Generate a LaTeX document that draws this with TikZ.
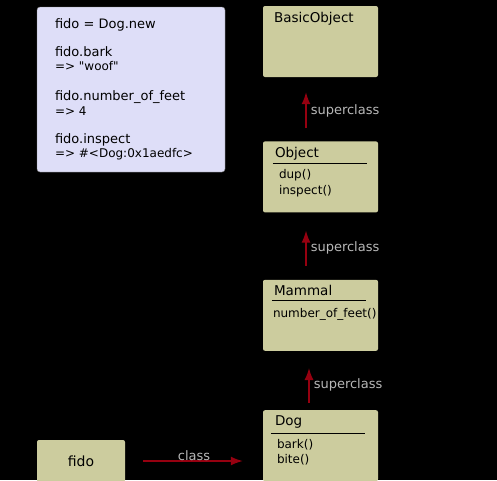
\documentclass[tikz,border=0pt]{standalone}
\usepackage{fontspec}
\setmainfont{DejaVu Sans}
\usetikzlibrary{positioning,arrows.meta}
\definecolor{khaki}{RGB}{204,204,158}
\definecolor{lavender}{RGB}{222,222,248}
\definecolor{arrowred}{RGB}{150,0,16}

\begin{document}
\begin{tikzpicture}[x=1pt, y=-1pt, node distance=64pt, >=Latex,
    classbox/.style={rectangle, fill=khaki, minimum width=115pt, minimum height=71pt, rounded corners=2pt, inner sep=0pt},
    codebox/.style={rectangle, fill=lavender, draw=gray, minimum width=188pt, minimum height=165pt, rounded corners=3pt, inner sep=0pt},
    classname/.style={anchor=north west, inner sep=0pt, font=\fontsize{13.5}{15}\selectfont},
    methods/.style={anchor=north west, inner sep=0pt, align=left, font=\fontsize{12}{15.5}\selectfont},
    divider/.style={black, line width=0.8pt},
    edge/.style={-{Latex[length=12pt,width=9pt]}, line width=1.5pt, draw=arrowred},
    edgelabel/.style={text=white!72!black, font=\fontsize{13}{15}\selectfont, inner sep=2pt}]

\fill[black] (0,0) rectangle (497,480);
\useasboundingbox (0,0) rectangle (497,480);

% irb session
\node [codebox] (session) at (131,89.5) {};
\node [anchor=north west, inner sep=0pt, align=left, font=\fontsize{13}{14.5}\selectfont] (code) at ([xshift=18pt,yshift=-11.5pt]session.north west)
  {fido = Dog.new\\[13.5pt]
   fido.bark\\
   {\fontsize{12}{14.5}\selectfont => \textquotedbl woof\textquotedbl}\\[15.5pt]
   fido.number\_of\_feet\\
   {\fontsize{12}{14.5}\selectfont => 4}\\[13.5pt]
   fido.inspect\\
   {\fontsize{12}{14.5}\selectfont => \#<Dog:0x1aedfc>}};

% class chain
\node [classbox] (basic) at (320.5,41.5) {};
\node [classbox, below=64pt of basic] (object) {};
\node [classbox, below=67pt of object] (mammal) {};
\node [classbox, below=59pt of mammal] (dog) {};

\node [classname] (basicname) at ([xshift=11pt,yshift=-6.5pt]basic.north west) {BasicObject};

\node [classname] (objectname) at ([xshift=12pt,yshift=-5.7pt]object.north west) {Object};
\draw [divider] ([xshift=10pt,yshift=-22pt]object.north west) -- ([xshift=-11pt,yshift=-22pt]object.north east);
\node [methods] (objectmethods) at ([xshift=16pt,yshift=-28pt]object.north west) {dup()\\inspect()};

\node [classname] (mammalname) at ([xshift=11pt,yshift=-5.7pt]mammal.north west) {Mammal};
\draw [divider] ([xshift=9pt,yshift=-21pt]mammal.north west) -- ([xshift=-12pt,yshift=-21pt]mammal.north east);
\node [methods] (mammalmethods) at ([xshift=10pt,yshift=-29pt]mammal.north west) {number\_of\_feet()};

\node [classname] (dogname) at ([xshift=12pt,yshift=-5.7pt]dog.north west) {Dog};
\draw [divider] ([xshift=8pt,yshift=-23pt]dog.north west) -- ([xshift=-13pt,yshift=-23pt]dog.north east);
\node [methods] (dogmethods) at ([xshift=14pt,yshift=-29pt]dog.north west) {bark()\\bite()};

% instance
\node [classbox, minimum width=88pt, minimum height=42pt] (fido) at (81,461) {};
\node [font=\fontsize{14}{16}\selectfont, inner sep=0pt] (fidoname) at (fido) {fido};

% superclass links
\draw [edge, shorten <=13pt, shorten >=15pt] ([xshift=-14.5pt]object.north) -- node[edgelabel, right, xshift=2pt, yshift=-2pt] (sup1) {superclass} ([xshift=-14.5pt]basic.south);
\draw [edge, shorten <=14pt, shorten >=18pt] ([xshift=-14.5pt]mammal.north) -- node[edgelabel, right, xshift=2pt, yshift=-2pt] (sup2) {superclass} ([xshift=-14.5pt]object.south);
\draw [edge, shorten <=7pt, shorten >=17pt] ([xshift=-11.5pt]dog.north) -- node[edgelabel, right, xshift=2pt, yshift=-4pt] (sup3) {superclass} ([xshift=-11.5pt]mammal.south);

% class link
\draw [edge, shorten <=18pt, shorten >=20pt] (fido.east) -- node[edgelabel, above, yshift=-2pt] (cls) {class} (fido.east -| dog.west);

\end{tikzpicture}
\end{document}
